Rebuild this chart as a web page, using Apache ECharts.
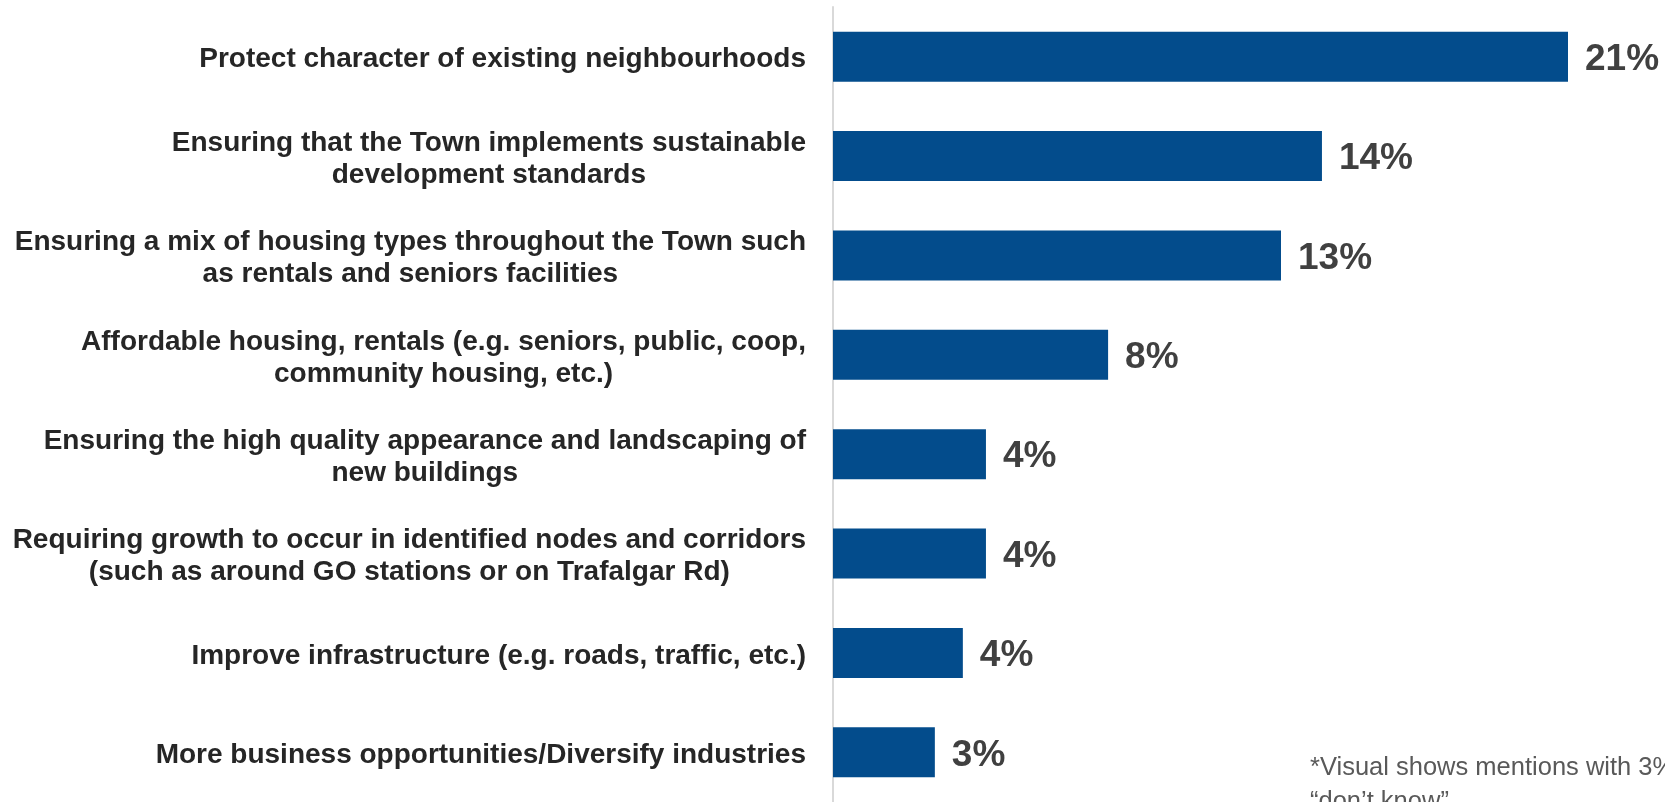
<!DOCTYPE html>
<html>
<head>
<meta charset="utf-8">
<title>Priorities</title>
<script src="https://cdn.jsdelivr.net/npm/echarts@6/dist/echarts.min.js"></script>
<style>
  html, body { margin: 0; padding: 0; background: #fff; }
  #chart { width: 1665px; height: 802px; }
</style>
</head>
<body>
<div id="chart"></div>
<script>
// categories, top to bottom
const categories = [
  'Protect character of existing neighbourhoods',
  'Ensuring that the Town implements sustainable\ndevelopment standards',
  'Ensuring a mix of housing types throughout the Town such\nas rentals and seniors facilities',
  'Affordable housing, rentals (e.g. seniors, public, coop,\ncommunity housing, etc.)',
  'Ensuring the high quality appearance and landscaping of\nnew buildings',
  'Requiring growth to occur in identified nodes and corridors\n(such as around GO stations or on Trafalgar Rd)',
  'Improve infrastructure (e.g. roads, traffic, etc.)',
  'More business opportunities/Diversify industries'
]
// bar lengths (%)
const values = [21.0, 13.97, 12.8, 7.86, 4.37, 4.37, 3.71, 2.91]
// printed labels
const valueLabels = ['21%', '14%', '13%', '8%', '4%', '4%', '4%', '3%']

const noteLines = [
  '*Visual shows mentions with 3% or more, excluding',
  '\u201cdon\u2019t know\u201d'
]

const chart = echarts.init(document.getElementById('chart'))

const option = {
  animation: false,
  grid: {
    left: 833,
    right: 62,
    top: 7,
    bottom: -5,
    containLabel: false
  },
  xAxis: {
    type: 'value',
    min: 0,
    max: 22,
    show: false
  },
  yAxis: {
    type: 'category',
    inverse: true,
    data: categories,
    axisLine: {
      show: true,
      lineStyle: { color: '#d9d9d9', width: 2 }
    },
    axisTick: { show: false },
    axisLabel: {
      margin: 27,
      align: 'right',
      padding: [6, 0, 0, 0],
      fontFamily: 'Liberation Sans, Arial, sans-serif',
      fontWeight: 'bold',
      fontSize: 28,
      color: '#262626',
      formatter: (v) => v.split('\n').map((l) => '{c|' + l + '}').join('\n'),
      rich: {
        c: {
          align: 'center',
          fontFamily: 'Liberation Sans, Arial, sans-serif',
          fontWeight: 'bold',
          fontSize: 28,
          lineHeight: 32,
          color: '#262626'
        }
      }
    }
  },
  series: [
    {
      type: 'bar',
      data: values,
      barWidth: 50,
      itemStyle: { color: '#034c8c' },
      label: {
        show: true,
        position: 'right',
        distance: 17,
        offset: [0, 3],
        fontFamily: 'Liberation Sans, Arial, sans-serif',
        fontWeight: 'bold',
        fontSize: 37,
        color: '#404040',
        formatter: (p) => valueLabels[p.dataIndex]
      }
    }
  ],
  graphic: [
    {
      type: 'text',
      left: 1310,
      top: 751,
      style: {
        text: noteLines.join('\n'),
        fontFamily: 'Liberation Sans, Arial, sans-serif',
        fontSize: 25.5,
        lineHeight: 34,
        fill: '#595959'
      }
    }
  ]
}

chart.setOption(option)
</script>
</body>
</html>
